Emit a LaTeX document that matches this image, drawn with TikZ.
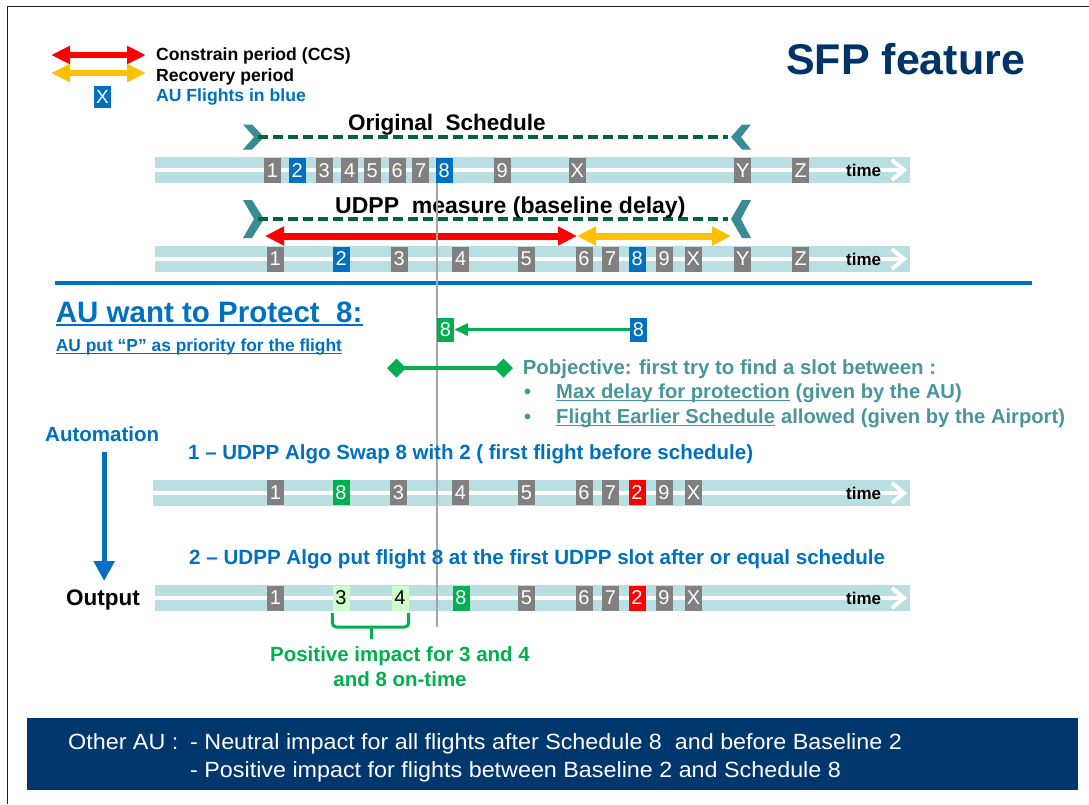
\documentclass[tikz,border=0pt]{standalone}
\usepackage{fontspec}
\setmainfont{Liberation Sans}
\newfontfamily\widesans[FakeStretch=1.06]{Liberation Sans}
\usetikzlibrary{arrows.meta}

\definecolor{aublue}{RGB}{0,112,192}
\definecolor{slotgray}{RGB}{128,128,128}
\definecolor{okgreen}{RGB}{0,176,80}
\definecolor{lightok}{RGB}{204,255,204}
\definecolor{barteal}{RGB}{185,223,227}
\definecolor{chevteal}{RGB}{58,140,148}
\definecolor{dashgreen}{RGB}{0,102,51}
\definecolor{periodred}{RGB}{255,0,0}
\definecolor{periodyellow}{RGB}{255,192,0}
\definecolor{objteal}{RGB}{72,150,156}
\definecolor{navy}{RGB}{0,51,102}
\definecolor{barnavy}{RGB}{0,56,110}
\definecolor{guidegray}{RGB}{165,165,165}
\definecolor{framegray}{RGB}{30,30,30}

\newcommand\fs[1]{\fontsize{#1}{#1}\selectfont}

% one time track: #1 centre y, #2 left x, #3 name of its "time" label
\newcommand\drawtrack[3]{%
  \fill[barteal] (#2,#1-13) rectangle (910,#1+13);
  \draw[white, line width=4pt] (#2,#1) -- (903,#1);
  \draw[white, line width=4pt, miter limit=10] (892,#1-10) -- (904,#1) -- (892,#1+10);
  \node[txt, font=\bfseries\fs{17}] (#3) at (846,#1+6.5) {time};
}

\tikzset{
  txt/.style={inner sep=0pt, anchor=base west},
  slot/.style={minimum width=17pt, minimum height=25pt, inner sep=0pt,
    text=white, font=\fs{20}},
  period/.style={draw=#1, line width=6pt,
    {Triangle[length=19pt,width=17pt]}-{Triangle[length=19pt,width=17pt]}},
  bigperiod/.style={draw=#1, line width=7pt,
    {Triangle[length=19pt,width=18pt]}-{Triangle[length=19pt,width=18pt]}},
  sched/.style={draw=dashgreen, line width=4pt, dash pattern=on 10pt off 5pt},
  chev/.style={fill=chevteal},
}

\begin{document}
\begin{tikzpicture}[x=1pt,y=-1pt]
\useasboundingbox (0,0) rectangle (1089,804);
\fill[white] (0,0) rectangle (1089,804);

% page frame
\draw[framegray, line width=1.6pt] (7.5,804) -- (7.5,6.5) -- (1089,6.5);

% ---------- legend ----------
\coordinate (cl) at (51,55);  \coordinate (cr) at (146,55);
\coordinate (rl) at (51,73);  \coordinate (rr) at (146,73);
\draw[period=periodyellow] (rl) -- (rr);
\draw[period=periodred] (cl) -- (cr);
\node[txt, font=\bfseries\fs{17.6}] (lgc) at (156,60) {Constrain period (CCS)};
\node[txt, font=\bfseries\fs{17.6}] (lgr) at (156,81.7) {Recovery period};
\node[slot, fill=aublue, minimum height=22pt, font=\fs{19}] (lgx) at (102.5,97) {X};
\node[txt, font=\bfseries\fs{17.6}, text=aublue] (lga) at (156,101.7) {AU Flights in blue};

% ---------- title ----------
\node[txt, font=\bfseries\fs{43}, text=navy] (title) at (786,74) {SFP feature};

% ---------- original schedule ----------
\drawtrack{170}{155}{time1}
\fill[chev] (243,124.5) -- (252,124.5) -- (264,137) -- (252,149.5) -- (243,149.5) -- (254,137) -- cycle;
\fill[chev] (751,124.5) -- (742,124.5) -- (731,137) -- (742,149.5) -- (751,149.5) -- (741,137) -- cycle;
\coordinate (os1) at (258,137); \coordinate (os2) at (728,137);
\draw[sched] (os1) -- (os2);
\node[txt, font=\bfseries\fs{22.5}] (ttl1) at (348,130.5) {Original\ \ Schedule};

% ---------- UDPP measure ----------
\drawtrack{259}{155}{time2}
\fill[chev] (243,200) -- (252,200) -- (264,219) -- (252,238) -- (243,238) -- (254,219) -- cycle;
\fill[chev] (751,200) -- (742,200) -- (731,219) -- (742,238) -- (751,238) -- (741,219) -- cycle;
\coordinate (us1) at (258,219); \coordinate (us2) at (728,219);
\draw[sched] (us1) -- (us2);
\node[txt, font=\bfseries\fs{23}] (ttl2) at (335,213.3) {UDPP\ \ measure (baseline delay)};
\coordinate (ccs1) at (265,236); \coordinate (ccs2) at (577,236); \coordinate (rec2) at (731,236);
\draw[bigperiod=periodyellow] (ccs2) -- (rec2);
\draw[bigperiod=periodred] (ccs1) -- (ccs2);

% separator
\draw[aublue, line width=4pt] (55,283) -- (1032,283);

% ---------- lower tracks ----------
\drawtrack{493}{153}{time3}
\drawtrack{598}{155}{time4}

% schedule guide
\draw[guidegray, line width=1.5pt] (437,183) -- (437,627);

% original schedule slots
\foreach \x/\t/\c/\n in {272.5/1/slotgray/o1, 297.3/2/aublue/o2, 324.3/3/slotgray/o3,
    349.7/4/slotgray/o4, 372.3/5/slotgray/o5, 397.3/6/slotgray/o6, 420.7/7/slotgray/o7,
    444.3/8/aublue/o8, 502.3/9/slotgray/o9, 577.3/X/slotgray/oX, 742.7/Y/slotgray/oY,
    800.7/Z/slotgray/oZ}
  \node[slot, fill=\c] (\n) at (\x,170.5) {\t};

% baseline slots
\foreach \x/\t/\c/\n in {275.3/1/slotgray/u1, 341.3/2/aublue/u2, 399.3/3/slotgray/u3,
    460.7/4/slotgray/u4, 526.3/5/slotgray/u5, 584/6/slotgray/u6, 610.7/7/slotgray/u7,
    637.3/8/aublue/u8, 664.3/9/slotgray/u9, 693.3/X/slotgray/uX, 742.7/Y/slotgray/uY,
    800.7/Z/slotgray/uZ}
  \node[slot, fill=\c] (\n) at (\x,259) {\t};

% swap result slots
\foreach \x/\t/\c/\n in {275.5/1/slotgray/s1, 341/8/okgreen/s8, 398.5/3/slotgray/s3,
    460.5/4/slotgray/s4, 526.5/5/slotgray/s5, 584/6/slotgray/s6, 610.5/7/slotgray/s7,
    637/2/periodred/s2, 664/9/slotgray/s9, 693.5/X/slotgray/sX}
  \node[slot, fill=\c] (\n) at (\x,492.5) {\t};

% output slots
\foreach \x/\t/\c/\n in {275.5/1/slotgray/p1, 461/8/okgreen/p8, 526.5/5/slotgray/p5,
    584/6/slotgray/p6, 610.5/7/slotgray/p7, 637/2/periodred/p2, 664/9/slotgray/p9,
    693.5/X/slotgray/pX}
  \node[slot, fill=\c] (\n) at (\x,598) {\t};
\node[slot, fill=lightok, text=black] (p3) at (341,598) {3};
\node[slot, fill=lightok, text=black] (p4) at (400,598) {4};

% ---------- protection request ----------
\node[txt, font=\bfseries\fs{29.5}, text=aublue] (want) at (55.7,322.3) {AU want to Protect\ \ 8:};
\draw[aublue, line width=2pt] ([yshift=-3pt]want.base west) -- ([yshift=-3pt]want.base east);
\node[txt, font=\bfseries\fs{17.4}, text=aublue] (prio) at (55.7,351) {AU put “P” as priority for the flight};
\draw[aublue, line width=1.5pt] ([yshift=-2.5pt]prio.base west) -- ([yshift=-2.5pt]prio.base east);

\node[slot, fill=okgreen, minimum height=24pt] (g8) at (445.5,329.5) {8};
\node[slot, fill=aublue, minimum height=24pt] (b8) at (638.5,329.5) {8};
\draw[okgreen, line width=3.5pt, -{Triangle[length=14pt,width=12pt]}] (b8) -- (g8);

\coordinate (dl) at (387,368); \coordinate (dr) at (513,368);
\draw[okgreen, line width=4pt,
  {Diamond[length=19pt,width=19pt]}-{Diamond[length=19pt,width=19pt]}] (dl) -- (dr);

\node[txt, font=\bfseries\fs{20.4}, text=objteal] (obj) at (522.6,374)
  {Pobjective: first try to find a slot between :};
\node[txt, font=\bfseries\fs{20}, text=objteal] (bu1) at (524,398) {•};
\node[txt, font=\bfseries\fs{20}, text=objteal] (bu2) at (524,423) {•};
\node[txt, font=\bfseries\fs{20.2}, text=objteal] (mx) at (556,398) {Max delay for protection};
\node[txt, font=\bfseries\fs{20.2}, text=objteal] (mxr) at (mx.base east) {\ (given by the AU)};
\draw[objteal, line width=1.5pt] ([yshift=-2.5pt]mx.base west) -- ([yshift=-2.5pt]mx.base east);
\node[txt, font=\bfseries\fs{20.2}, text=objteal] (fe) at (556,423) {Flight Earlier Schedule};
\node[txt, font=\bfseries\fs{20.2}, text=objteal] (fer) at (fe.base east) {\ allowed (given by the Airport)};
\draw[objteal, line width=1.5pt] ([yshift=-2.5pt]fe.base west) -- ([yshift=-2.5pt]fe.base east);

% ---------- automation ----------
\node[txt, font=\bfseries\fs{20.5}, text=aublue] (auto) at (45,441.7) {Automation};
\node[txt, font=\bfseries\fs{22.5}] (out) at (66,605) {Output};
\draw[aublue, line width=5pt, -{Triangle[length=20pt,width=20pt]},
  shorten <=10pt, shorten >=8pt]
  ([xshift=2pt]auto.south) -- ([xshift=2pt]auto.south |- out.north);

\node[txt, font=\bfseries\fs{20.5}, text=aublue] (step1) at (188,459)
  {1 – UDPP Algo Swap 8 with 2 ( first flight before schedule)};
\node[txt, font=\bfseries\fs{20.6}, text=aublue] (step2) at (189,564)
  {2 – UDPP Algo put flight 8 at the first UDPP slot after or equal schedule};

% impact brace under 3 and 4
\coordinate (bl) at ([yshift=-2.5pt]p3.south west);
\coordinate (br) at ([yshift=-2.5pt]p4.south east);
\draw[okgreen, line width=3pt, rounded corners=4pt]
  (bl) -- (bl |- 0,627) -- (br |- 0,627) -- (br);
\coordinate (bt1) at (371,627); \coordinate (bt2) at (371,639);
\draw[okgreen, line width=3pt] (bt1) -- (bt2);
\node[inner sep=0pt, anchor=base, font=\bfseries\fs{20.5}, text=okgreen] (pos1) at (400,661.7)
  {Positive impact for 3 and 4};
\node[inner sep=0pt, anchor=base, font=\bfseries\fs{20.5}, text=okgreen] (pos2) at (400,686.7)
  {and 8 on-time};

% ---------- other AU summary ----------
\fill[barnavy] (27,718) rectangle (1078,790);
\node[txt, font=\widesans\fs{22}, text=white] (oth) at (68,749.5) {Other AU :};
\node[txt, font=\widesans\fs{22}, text=white] (oth1) at (190,749.5)
  {- Neutral impact for all flights after Schedule 8\ \ and before Baseline 2};
\node[txt, font=\widesans\fs{22}, text=white] (oth2) at (190,777)
  {- Positive impact for flights between Baseline 2 and Schedule 8};
\end{tikzpicture}
\end{document}
